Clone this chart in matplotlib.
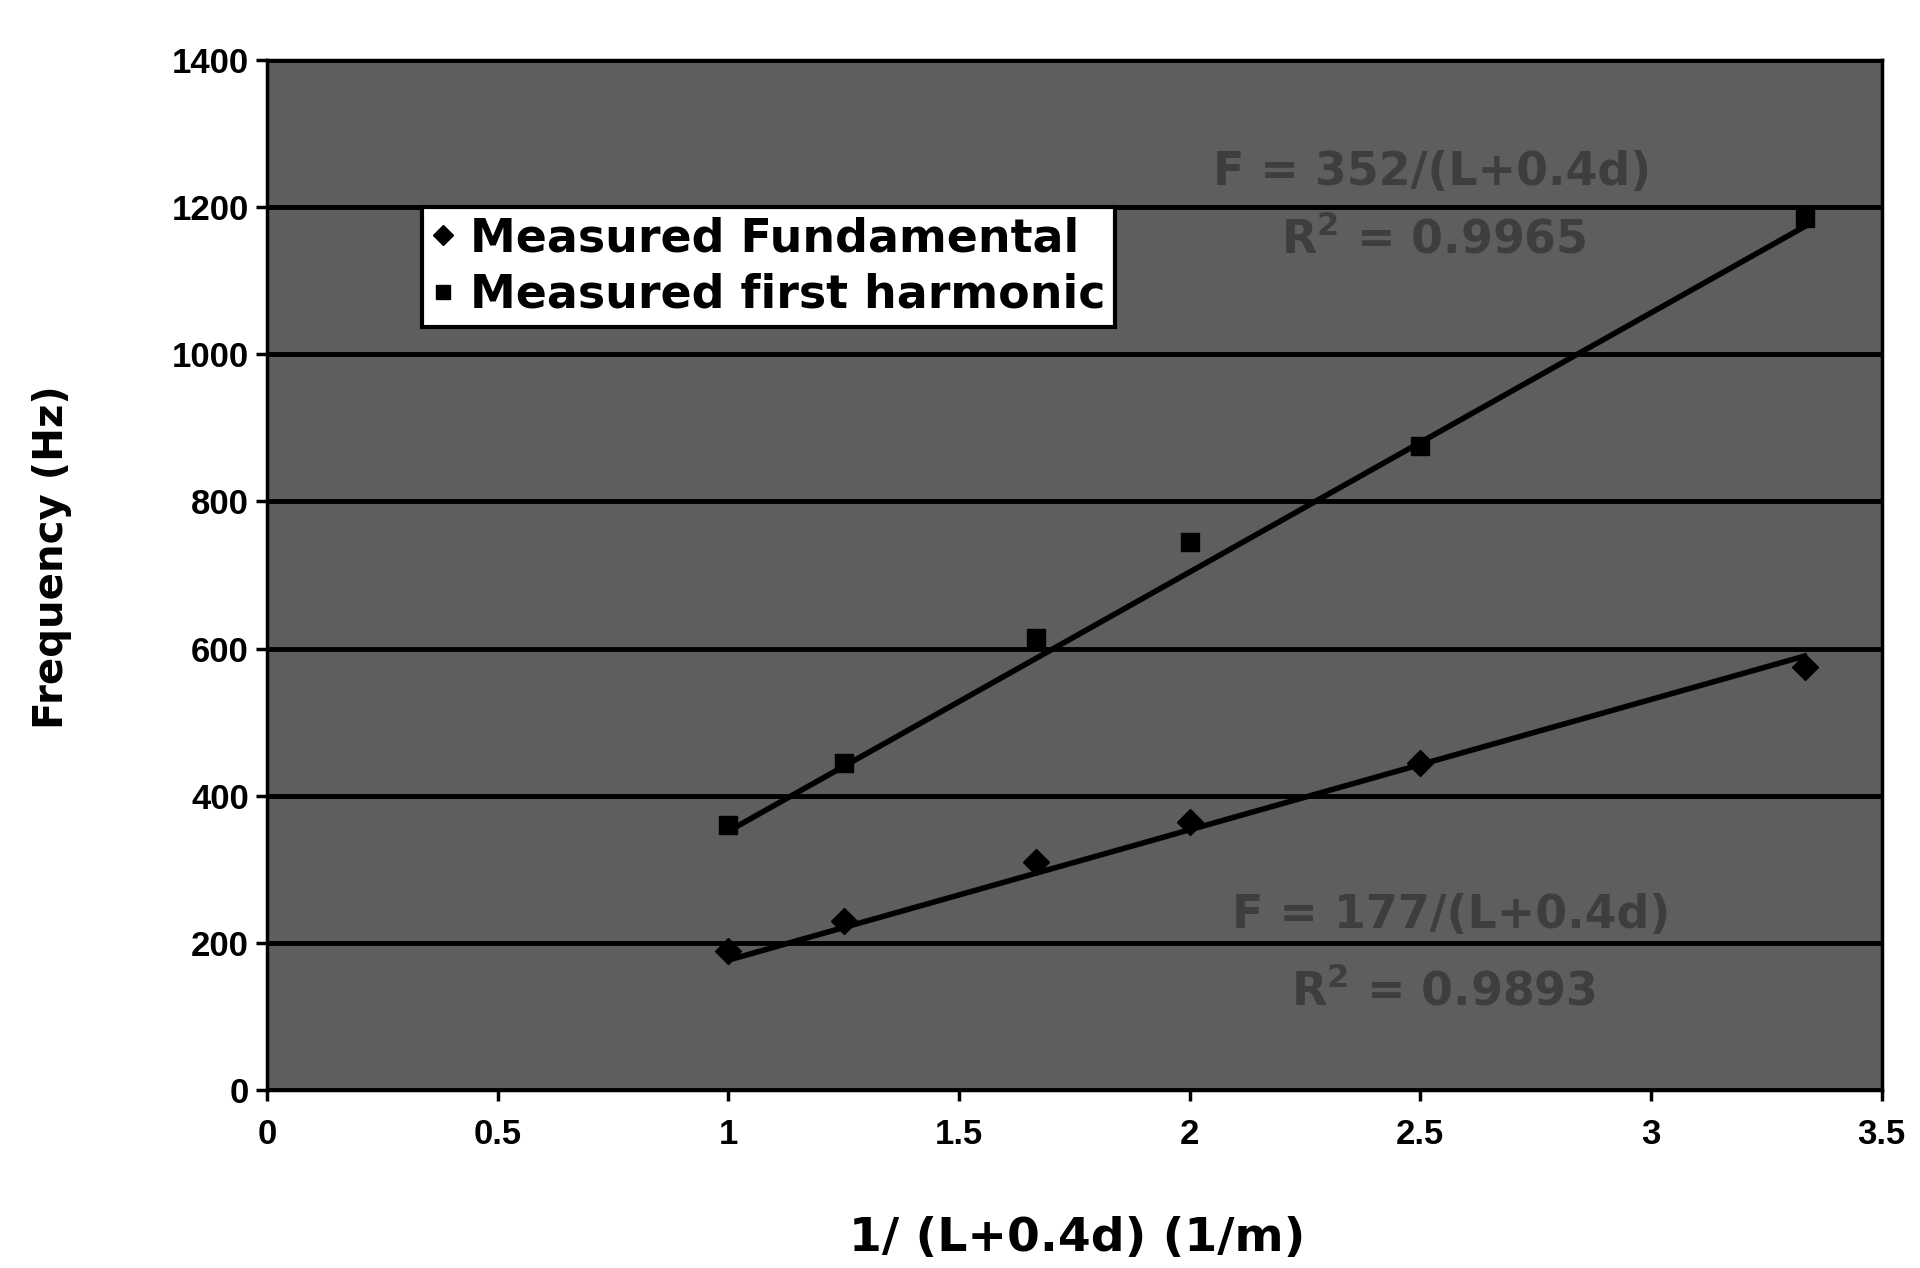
import matplotlib

matplotlib.use("Agg")
import matplotlib.pyplot as plt
import numpy as np

# 1/(L+0.4d) values, 1/m
x_fund = [1.0, 1.25, 1.667, 2.0, 2.5, 3.333]
f_fund = [190, 230, 310, 365, 445, 575]
x_harm = [1.0, 1.25, 1.667, 2.0, 2.5, 3.333]
f_harm = [360, 445, 615, 745, 875, 1185]

# trendline coefficients as printed on the chart
k_fund = 177
k_harm = 352
eq_fund = ["F = 177/(L+0.4d)", "R$^2$ = 0.9893"]
eq_harm = ["F = 352/(L+0.4d)", "R$^2$ = 0.9965"]

plt.rcParams["font.family"] = ["DejaVu Sans"]
plt.rcParams["mathtext.default"] = "bf"

fig = plt.figure(figsize=(19.2, 12.68), dpi=100)
ax = fig.add_axes([0.139, 0.140, 0.841, 0.813])
ax.set_facecolor("#5e5e5e")

ax.set_xlim(0, 3.5)
ax.set_ylim(0, 1400)
ax.set_yticks(np.arange(0, 1401, 200))
ax.set_xticks(np.arange(0, 3.51, 0.5))
ax.set_xticklabels(["0", "0.5", "1", "1.5", "2", "2.5", "3", "3.5"])
ax.grid(axis="y", color="black", lw=3.5)
ax.set_axisbelow(True)
for s in ax.spines.values():
    s.set_color("black")
    s.set_linewidth(2.5)
ax.tick_params(direction="out", length=8, width=2.5, pad=5)
for lab in ax.get_xticklabels() + ax.get_yticklabels():
    lab.set_fontweight("bold")
    lab.set_fontfamily("Liberation Sans")
    lab.set_fontsize(25)
ax.tick_params(axis="x", pad=12)

xs = np.linspace(min(x_fund), max(x_fund), 50)
ax.plot(xs, k_fund * xs, color="black", lw=4)
xs = np.linspace(min(x_harm), max(x_harm), 50)
ax.plot(xs, k_harm * xs, color="black", lw=4)

ax.plot(x_fund, f_fund, "D", color="black", ms=13, label="Measured Fundamental")
ax.plot(x_harm, f_harm, "s", color="black", ms=13, label="Measured first harmonic")

txt = dict(ha="center", va="center", fontsize=33, fontweight="bold", color="#3e3e3e")
ax.text(2.526, 1247, eq_harm[0], **txt)
ax.text(2.53, 1156, eq_harm[1], **txt)
ax.text(2.566, 238, eq_fund[0], **txt)
ax.text(2.55, 134, eq_fund[1], **txt)

leg = ax.legend(loc="upper left", bbox_to_anchor=(0.096, 0.857),
                prop={"size": 33, "weight": "bold"},
                frameon=True, fancybox=False, borderpad=0.2, handlelength=0.5,
                handletextpad=0.35, labelspacing=0.25, markerscale=0.75, borderaxespad=0)
leg.get_frame().set_edgecolor("black")
leg.get_frame().set_linewidth(3)
leg.get_frame().set_facecolor("white")
leg.get_frame().set_alpha(1)

fig.text(0.561, 0.023, "1/ (L+0.4d) (1/m)", ha="center", va="center",
         fontsize=34, fontweight="bold")
fig.text(0.027, 0.561, "Frequency (Hz)", ha="center", va="center", rotation=90,
         fontsize=29, fontweight="bold")

fig.savefig("out.png", dpi=100)
